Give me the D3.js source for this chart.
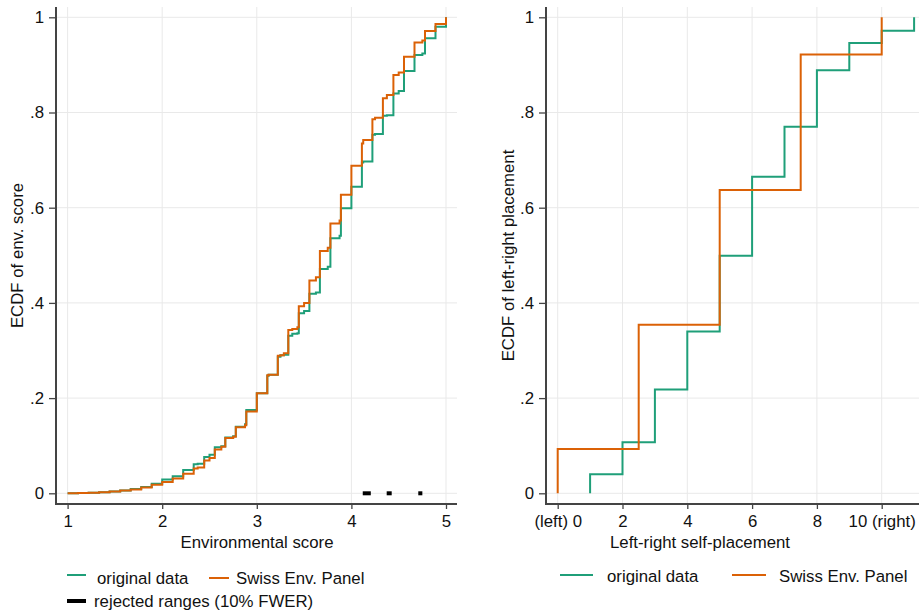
<!DOCTYPE html>
<html>
<head>
<meta charset="utf-8">
<script src="https://cdn.jsdelivr.net/npm/d3@7"></script>
<style>
  html, body { margin: 0; padding: 0; background: #fff; }
  svg { display: block; }
  text { font-family: "Liberation Sans", Arial, sans-serif; fill: #111; }
</style>
</head>
<body>
<svg id="chart" width="919" height="614"></svg>
<script>
// ---------- DATA ----------
// Left panel: environmental score ECDF (jump points)
const envScores = [1, 1.111, 1.222, 1.333, 1.444, 1.556, 1.667, 1.778, 1.889,
  2, 2.111, 2.222, 2.333, 2.375, 2.444, 2.5, 2.556, 2.625, 2.667, 2.75, 2.778, 2.875, 2.889,
  3, 3.111, 3.125, 3.222, 3.25, 3.286, 3.333, 3.375, 3.429, 3.444, 3.5, 3.556, 3.625, 3.667, 3.75, 3.778, 3.875, 3.889,
  4, 4.111, 4.125, 4.222, 4.25, 4.333, 4.375, 4.444, 4.5, 4.556, 4.667, 4.75, 4.778, 4.889, 5];
const envOriginal = [0, 0.0005, 0.001, 0.002, 0.004, 0.006, 0.009, 0.013, 0.020,
  0.029, 0.036, 0.049, 0.061, 0.062, 0.076, 0.081, 0.097, 0.099, 0.117, 0.120, 0.140, 0.145, 0.175,
  0.210, 0.247, 0.249, 0.287, 0.290, 0.291, 0.331, 0.335, 0.336, 0.378, 0.383, 0.419, 0.422, 0.471, 0.476, 0.536, 0.541, 0.599,
  0.644, 0.695, 0.697, 0.753, 0.755, 0.793, 0.794, 0.840, 0.845, 0.887, 0.921, 0.924, 0.956, 0.980, 1];
const envSwiss = [0, 0.0005, 0.001, 0.002, 0.004, 0.006, 0.008, 0.012, 0.018,
  0.024, 0.031, 0.041, 0.052, 0.054, 0.069, 0.074, 0.092, 0.098, 0.116, 0.119, 0.139, 0.143, 0.172,
  0.210, 0.248, 0.249, 0.289, 0.290, 0.294, 0.343, 0.345, 0.349, 0.393, 0.400, 0.447, 0.454, 0.509, 0.516, 0.567, 0.573, 0.627,
  0.688, 0.735, 0.742, 0.786, 0.789, 0.830, 0.837, 0.879, 0.884, 0.917, 0.947, 0.951, 0.971, 0.986, 1];
const rejectedStart = [4.12, 4.373, 4.707];
const rejectedEnd   = [4.205, 4.426, 4.75];

// Right panel: left-right self-placement ECDF
const lrOrigX = [1, 1, 2, 3, 4, 5, 6, 7, 8, 9, 10, 11];
const lrOrigF = [0, 0.040, 0.107, 0.218, 0.340, 0.499, 0.665, 0.770, 0.889, 0.946, 0.972, 1.0];
const lrSwissX = [0, 0, 2.5, 5, 7.5, 10];
const lrSwissF = [0, 0.093, 0.354, 0.637, 0.922, 1.0];

// Ticks
const yTicks = [0, 0.2, 0.4, 0.6, 0.8, 1];
const yTickLabels = ["0", ".2", ".4", ".6", ".8", "1"];
const envTicks = [1, 2, 3, 4, 5];
const envTickLabels = ["1", "2", "3", "4", "5"];
const lrTicks = [0, 2, 4, 6, 8, 10];
const lrTickLabels = ["(left) 0", "2", "4", "6", "8", "10 (right)"];

const seriesNames = ["original data", "Swiss Env. Panel"];
const rejectedName = "rejected ranges (10% FWER)";

// ---------- STYLE ----------
const GREEN = "#1f9f79", ORANGE = "#db6106";
const GRID = "#e9e9e9", AXIS = "#444";
const FS = 16.8;

const svg = d3.select("#chart");

const y = d3.scaleLinear().domain([0, 1]).range([493.3, 17.3]);
const plotTop = 7, plotBottom = 504;

function panel(opts) {
  const g = svg.append("g");
  const x = opts.x;
  // gridlines
  g.selectAll(".vg").data(opts.xTicks).enter().append("line")
    .attr("x1", d => x(d)).attr("x2", d => x(d))
    .attr("y1", plotTop).attr("y2", plotBottom)
    .attr("stroke", GRID).attr("stroke-width", 1);
  g.selectAll(".hg").data(yTicks).enter().append("line")
    .attr("x1", opts.left).attr("x2", opts.right)
    .attr("y1", d => y(d)).attr("y2", d => y(d))
    .attr("stroke", GRID).attr("stroke-width", 1);

  // y axis
  const ya = d3.axisLeft(y).tickValues(yTicks)
    .tickFormat((d, i) => yTickLabels[i]).tickSize(7).tickPadding(5);
  const yg = g.append("g").attr("transform", `translate(${opts.left},0)`).call(ya);
  yg.select(".domain").remove();
  yg.selectAll(".tick line").attr("stroke", AXIS).attr("stroke-width", 1.3);
  yg.selectAll(".tick text").style("font-size", FS + "px")
    .style("font-family", '"Liberation Sans", Arial, sans-serif').attr("fill", "#111");

  // x axis
  const xa = d3.axisBottom(x).tickValues(opts.xTicks)
    .tickFormat((d, i) => opts.xTickLabels[i]).tickSize(5).tickPadding(6);
  const xg = g.append("g").attr("transform", `translate(0,${plotBottom})`).call(xa);
  xg.select(".domain").remove();
  xg.selectAll(".tick line").attr("stroke", AXIS).attr("stroke-width", 1.3);
  xg.selectAll(".tick text").style("font-size", FS + "px")
    .style("font-family", '"Liberation Sans", Arial, sans-serif').attr("fill", "#111");

  // axis lines
  g.append("line").attr("x1", opts.left).attr("x2", opts.left)
    .attr("y1", plotTop).attr("y2", plotBottom + 1)
    .attr("stroke", AXIS).attr("stroke-width", 2);
  g.append("line").attr("x1", opts.left - 1).attr("x2", opts.right)
    .attr("y1", plotBottom).attr("y2", plotBottom)
    .attr("stroke", AXIS).attr("stroke-width", 2);

  // titles
  g.append("text").attr("x", opts.titleX).attr("y", 548)
    .attr("text-anchor", "middle").style("font-size", FS + "px").text(opts.xTitle);
  g.append("text")
    .attr("transform", `translate(${opts.yTitleX},${(plotTop + plotBottom) / 2}) rotate(-90)`)
    .attr("text-anchor", "middle").style("font-size", FS + "px").text(opts.yTitle);

  // lines
  const line = d3.line().x(d => x(d[0])).y(d => y(d[1])).curve(d3.curveStepAfter);
  opts.series.forEach(s => {
    g.append("path").datum(d3.zip(s.xs, s.fs))
      .attr("d", line).attr("fill", "none")
      .attr("stroke", s.color).attr("stroke-width", 2)
      .attr("stroke-linejoin", "miter").attr("stroke-linecap", "butt");
  });
  return g;
}

// Left panel
const xEnv = d3.scaleLinear().domain([1, 5]).range([67.6, 446]);
const gL = panel({
  x: xEnv, left: 56, right: 457,
  xTicks: envTicks, xTickLabels: envTickLabels,
  xTitle: "Environmental score", titleX: 257,
  yTitle: "ECDF of env. score", yTitleX: 23,
  series: [
    { xs: envScores, fs: envOriginal, color: GREEN },
    { xs: envScores, fs: envSwiss, color: ORANGE }
  ]
});
// rejected ranges
gL.selectAll(".rej").data(d3.zip(rejectedStart, rejectedEnd)).enter().append("line")
  .attr("x1", d => xEnv(d[0])).attr("x2", d => xEnv(d[1]))
  .attr("y1", y(0)).attr("y2", y(0))
  .attr("stroke", "#000").attr("stroke-width", 4);

// Right panel
const xLR = d3.scaleLinear().domain([0, 10]).range([557.7, 881.7]);
panel({
  x: xLR, left: 546, right: 919,
  xTicks: lrTicks, xTickLabels: lrTickLabels,
  xTitle: "Left-right self-placement", titleX: 700,
  yTitle: "ECDF of left-right placement", yTitleX: 514,
  series: [
    { xs: lrOrigX, fs: lrOrigF, color: GREEN },
    { xs: lrSwissX, fs: lrSwissF, color: ORANGE }
  ]
});

// ---------- LEGENDS ----------
function legendItem(x1, x2, ly, tx, ty, label, color, w) {
  svg.append("line").attr("x1", x1).attr("x2", x2).attr("y1", ly).attr("y2", ly)
    .attr("stroke", color).attr("stroke-width", w);
  svg.append("text").attr("x", tx).attr("y", ty).style("font-size", FS + "px").text(label);
}
legendItem(67, 86, 575, 97, 584, seriesNames[0], GREEN, 2);
legendItem(209, 229, 578, 236, 584, seriesNames[1], ORANGE, 2);
legendItem(67, 86, 601, 94, 607, rejectedName, "#000", 4);

legendItem(560, 593, 575, 607, 581.5, seriesNames[0], GREEN, 2);
legendItem(732, 766, 575, 779, 581.5, seriesNames[1], ORANGE, 2);
</script>
</body>
</html>
